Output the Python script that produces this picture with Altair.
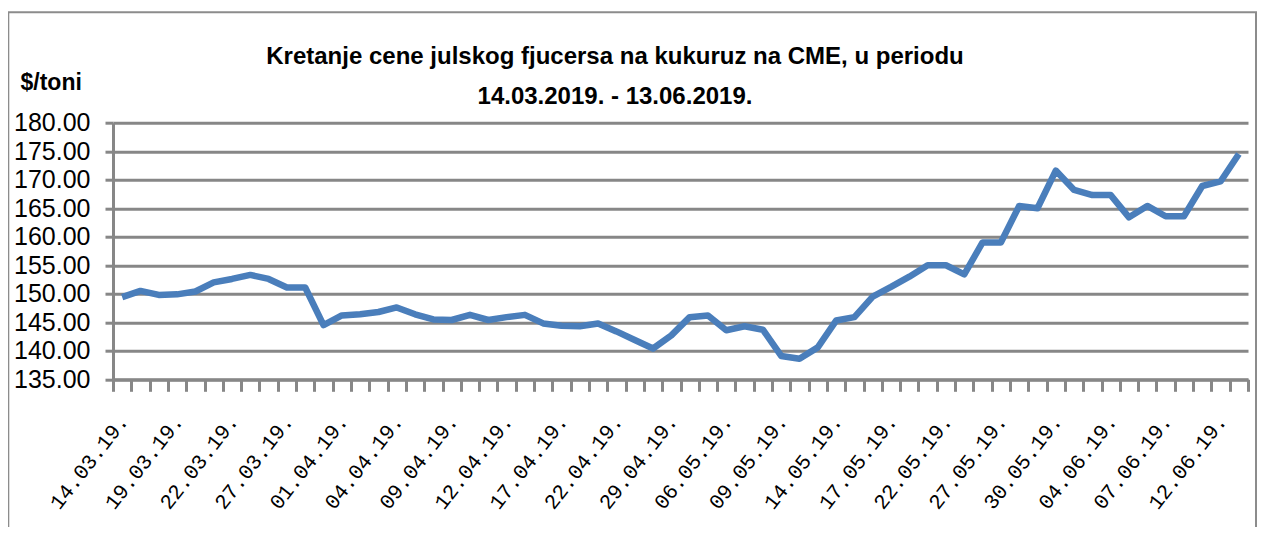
import json
import altair as alt
import pandas as pd

dates = [
    "14.03.19.", "15.03.19.", "18.03.19.", "19.03.19.", "20.03.19.", "21.03.19.",
    "22.03.19.", "25.03.19.", "26.03.19.", "27.03.19.", "28.03.19.", "29.03.19.",
    "01.04.19.", "02.04.19.", "03.04.19.", "04.04.19.", "05.04.19.", "08.04.19.",
    "09.04.19.", "10.04.19.", "11.04.19.", "12.04.19.", "15.04.19.", "16.04.19.",
    "17.04.19.", "18.04.19.", "19.04.19.", "22.04.19.", "23.04.19.", "24.04.19.",
    "29.04.19.", "30.04.19.", "03.05.19.", "06.05.19.", "07.05.19.", "08.05.19.",
    "09.05.19.", "10.05.19.", "13.05.19.", "14.05.19.", "15.05.19.", "16.05.19.",
    "17.05.19.", "20.05.19.", "21.05.19.", "22.05.19.", "23.05.19.", "24.05.19.",
    "27.05.19.", "28.05.19.", "29.05.19.", "30.05.19.", "31.05.19.", "03.06.19.",
    "04.06.19.", "05.06.19.", "06.06.19.", "07.06.19.", "10.06.19.", "11.06.19.",
    "12.06.19.", "13.06.19.",
]

prices = [
    149.4, 150.5, 149.8, 149.9, 150.4, 152.0, 152.6, 153.3, 152.6, 151.1, 151.1,
    144.5, 146.2, 146.4, 146.8, 147.6, 146.4, 145.5, 145.4, 146.3, 145.4, 145.9,
    146.3, 144.8, 144.4, 144.3, 144.8, 143.4, 141.9, 140.4, 142.7, 145.9, 146.2,
    143.6, 144.3, 143.7, 139.1, 138.6, 140.6, 145.3, 145.9, 149.5, 151.2, 153.0,
    155.0, 155.0, 153.4, 159.0, 159.0, 165.4, 165.0, 171.6, 168.2, 167.3, 167.3,
    163.4, 165.4, 163.6, 163.6, 168.9, 169.7, 174.5,
]

y_ticks = [135, 140, 145, 150, 155, 160, 165, 170, 175, 180]
title_line1 = "Kretanje cene julskog fjucersa na  kukuruz na CME, u periodu"
title_line2 = "14.03.2019. - 13.06.2019."
y_title = "$/toni"

n = len(dates)
df = pd.DataFrame({"i": list(range(n)), "date": dates, "price": prices})

tick_vals = [k - 0.5 for k in range(n + 1)]
label_expr = (
    "(round(datum.value + 0.5) % 3 == 0 && round(datum.value + 0.5) < "
    + str(n)
    + ") ? "
    + json.dumps(dates)
    + "[round(datum.value + 0.5)] : ''"
)

GRAY = "#878787"
W, H = 1135, 256.6

line = alt.Chart(df).mark_line(color="#4a7ebb", strokeWidth=6.5, strokeJoin="round").encode(
    x=alt.X(
        "i:Q",
        scale=alt.Scale(domain=[-0.5, n - 0.5], nice=False, zero=False),
        axis=alt.Axis(
            values=tick_vals,
            labelExpr=label_expr,
            labelOverlap=False,
            labelAngle=-52,
            labelAlign="right",
            labelBaseline="middle",
            labelFont="Liberation Mono",
            labelFontSize=21,
            labelColor="black",
            labelPadding=26,
            labelOffset=W / n / 2 + 2,
            tickSize=12,
            tickWidth=3,
            tickColor=GRAY,
            domainColor=GRAY,
            domainWidth=3,
            grid=False,
            title=None,
        ),
    ),
    y=alt.Y(
        "price:Q",
        scale=alt.Scale(domain=[135, 180], nice=False, zero=False),
        axis=alt.Axis(
            values=y_ticks,
            format=".2f",
            labelFont="Liberation Sans",
            labelFontSize=25,
            labelColor="black",
            labelPadding=15,
            tickSize=8,
            tickWidth=3,
            tickColor=GRAY,
            domainColor=GRAY,
            domainWidth=3,
            grid=True,
            gridColor=GRAY,
            gridWidth=3,
            gridOpacity=1,
            title=y_title,
            titleAngle=0,
            titleX=-93,
            titleY=-40,
            titleAlign="left",
            titleBaseline="middle",
            titleFont="Liberation Sans",
            titleFontSize=23,
            titleFontWeight="bold",
            titleColor="black",
        ),
    ),
)

one = pd.DataFrame({"a": [0]})

frame = alt.Chart(one).mark_rect(
    fill=None, stroke="#8c8c8c", strokeWidth=2
).encode(
    x=alt.value(-104.7), x2=alt.value(W + 8), y=alt.value(-110.4), y2=alt.value(420)
)

title_style = dict(
    font="Liberation Sans", fontSize=24, fontWeight="bold", color="black",
    align="center", baseline="middle",
)
t1 = alt.Chart(one).mark_text(**title_style).encode(
    x=alt.value(502), y=alt.value(-65.7), text=alt.value(title_line1)
)
t2 = alt.Chart(one).mark_text(**title_style).encode(
    x=alt.value(502), y=alt.value(-25.7), text=alt.value(title_line2)
)

chart = alt.layer(frame, t1, t2, line).properties(
    width=W,
    height=H,
    autosize=alt.AutoSizeParams(type="none"),
    padding={"left": 105, "top": 114.7, "right": 9, "bottom": 147.7},
).configure_view(stroke=None)

chart.save("out.html", embed_options={"renderer": "svg", "actions": False})
